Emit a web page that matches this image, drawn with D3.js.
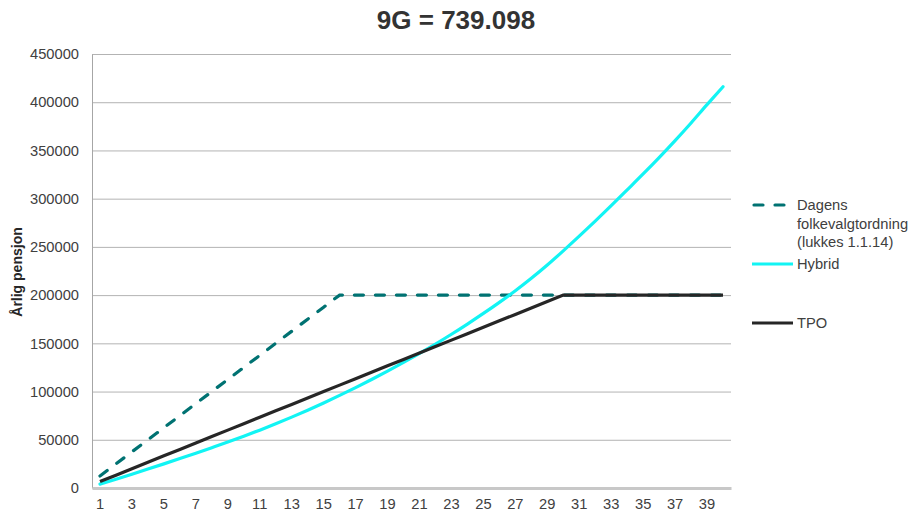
<!DOCTYPE html>
<html>
<head>
<meta charset="utf-8">
<script src="https://cdn.jsdelivr.net/npm/d3@7"></script>
<style>
  html, body { margin: 0; padding: 0; background: #fff; }
  svg { display: block; font-family: "Liberation Sans", Arial, sans-serif; }
</style>
</head>
<body>
<svg id="chart" width="909" height="515"></svg>
<script>
// ---- data ----
const years = d3.range(1, 41);
const xTickLabels = [1,3,5,7,9,11,13,15,17,19,21,23,25,27,29,31,33,35,37,39];
const yTickValues = [0,50000,100000,150000,200000,250000,300000,350000,400000,450000];

const dagens = [12500,25000,37500,50000,62500,75000,87500,100000,112500,125000,
  137500,150000,162500,175000,187500,200000,200000,200000,200000,200000,
  200000,200000,200000,200000,200000,200000,200000,200000,200000,200000,
  200000,200000,200000,200000,200000,200000,200000,200000,200000,200000];

const hybrid = [4000,9100,14300,19600,25000,30500,36100,41800,47600,53700,
  60000,66600,73500,80700,88200,96000,104100,112500,121200,130200,
  139500,149200,159400,170000,181000,192500,204500,217400,231200,245900,
  261100,276700,292700,309100,325600,342600,360200,378500,397500,416000];

const tpo = [6667,13333,20000,26667,33333,40000,46667,53333,60000,66667,
  73333,80000,86667,93333,100000,106667,113333,120000,126667,133333,
  140000,146667,153333,160000,166667,173333,180000,186667,193333,200000,
  200000,200000,200000,200000,200000,200000,200000,200000,200000,200000];

const seriesNames = ["Dagens folkevalgtordning (lukkes 1.1.14)", "Hybrid", "TPO"];

// ---- layout ----
const svg = d3.select("#chart");
const mLeft = 92, mRight = 731, mTop = 54, mBottom = 488;

const x = d3.scaleBand().domain(years).range([mLeft, mRight]).padding(0);
const y = d3.scaleLinear().domain([0, 450000]).range([mBottom, mTop]);
const cx = d => x(d) + x.bandwidth() / 2;

// title
svg.append("text")
  .attr("x", 456).attr("y", 29)
  .attr("text-anchor", "middle")
  .attr("font-size", "26px").attr("font-weight", "bold")
  .attr("fill", "#333")
  .text("9G = 739.098");

// gridlines
const grid = svg.append("g").attr("transform", `translate(${mLeft},0)`)
  .call(d3.axisLeft(y).tickValues(yTickValues.slice(1)).tickSize(-(mRight - mLeft)).tickFormat(""));
grid.select(".domain").remove();
grid.selectAll("line").attr("stroke", "#b3b3b3").attr("stroke-width", 1);

// y axis
const yAxis = svg.append("g").attr("transform", `translate(${mLeft},0)`)
  .call(d3.axisLeft(y).tickValues(yTickValues).tickSize(0).tickPadding(13).tickFormat(d3.format("d")));
yAxis.select(".domain").attr("stroke", "#a6a6a6").attr("stroke-width", 1);
yAxis.selectAll("text").attr("font-size", "14.7px").attr("fill", "#404040")
  .attr("font-family", "Liberation Sans, Arial, sans-serif");

// x axis
const xAxis = svg.append("g").attr("transform", `translate(0,${mBottom})`)
  .call(d3.axisBottom(x).tickValues(xTickLabels).tickSize(0).tickPadding(11));
xAxis.select(".domain").attr("stroke", "#c8c8c8").attr("stroke-width", 3);
xAxis.selectAll("text").attr("font-size", "14.7px").attr("fill", "#404040")
  .attr("font-family", "Liberation Sans, Arial, sans-serif");

// y-axis title
svg.append("text")
  .attr("transform", "translate(22,272) rotate(-90)")
  .attr("text-anchor", "middle")
  .attr("font-size", "14px").attr("font-weight", "bold")
  .attr("fill", "#262626")
  .text("Årlig pensjon");

// lines
const line = d3.line().x((d, i) => cx(years[i])).y(d => y(d));
const smooth = d3.line().x((d, i) => cx(years[i])).y(d => y(d)).curve(d3.curveMonotoneX);

svg.append("path").datum(dagens)
  .attr("d", line).attr("fill", "none")
  .attr("stroke", "#007272").attr("stroke-width", 3.2)
  .attr("stroke-dasharray", "9,12").attr("stroke-linecap", "round");

svg.append("path").datum(hybrid)
  .attr("d", smooth).attr("fill", "none")
  .attr("stroke", "#12f4f4").attr("stroke-width", 3.2)
  .attr("stroke-linecap", "round");

svg.append("path").datum(tpo)
  .attr("d", line).attr("fill", "none")
  .attr("stroke", "#262626").attr("stroke-width", 3.2)
  .attr("stroke-linecap", "butt");

// legend
const lg = svg.append("g");
const legendItems = [
  { y: 205, color: "#007272", dash: "9,12", cap: "round", lines: ["Dagens", "folkevalgtordning", "(lukkes 1.1.14)"] },
  { y: 264, color: "#12f4f4", dash: null, cap: "butt", lines: ["Hybrid"] },
  { y: 323, color: "#262626", dash: null, cap: "butt", lines: ["TPO"] }
];
legendItems.forEach(it => {
  lg.append("line")
    .attr("x1", it.dash ? 754 : 752).attr("x2", it.dash ? 790 : 793)
    .attr("y1", it.y).attr("y2", it.y)
    .attr("stroke", it.color).attr("stroke-width", 3.2)
    .attr("stroke-linecap", it.cap)
    .attr("stroke-dasharray", it.dash);
  const t = lg.append("text").attr("x", 797).attr("y", it.y + 5)
    .attr("font-size", "14.7px").attr("fill", "#404040");
  it.lines.forEach((s, i) => {
    t.append("tspan").attr("x", 797).attr("dy", i === 0 ? 0 : 18.5).text(s);
  });
});
</script>
</body>
</html>
